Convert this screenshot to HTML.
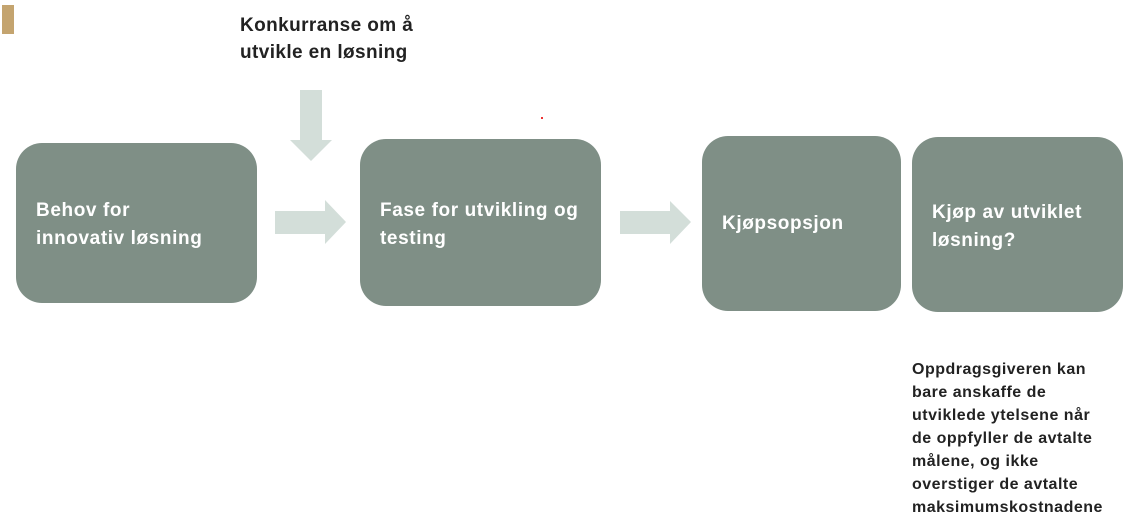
<!DOCTYPE html>
<html><head><meta charset="utf-8"><style>
body{margin:0;width:1129px;height:529px;background:#fff;position:relative;overflow:hidden;font-family:"Liberation Sans",sans-serif;font-weight:bold}
.b{position:absolute;background:#7f8f86;border-radius:26px;color:#fff;font-size:19px;letter-spacing:0.6px;line-height:28px;box-sizing:border-box;white-space:nowrap}
.t{position:absolute;color:#222;white-space:nowrap}
</style></head><body>
<div style="position:absolute;left:2px;top:5px;width:12px;height:29px;background:#c4a46f"></div>
<div class="t" style="left:240px;top:12px;font-size:19px;letter-spacing:0.4px;line-height:27px">Konkurranse om å<br>utvikle en løsning</div>
<div style="position:absolute;left:541px;top:117px;width:2px;height:2px;background:#e33"></div>
<svg width="1129" height="529" style="position:absolute;left:0;top:0">
<polygon fill="#d3ded9" points="300,90 322,90 322,140 332,140 311,161 290,140 300,140"/>
<polygon fill="#d3ded9" points="275,211 325,211 325,200 346,222 325,244 325,234 275,234"/>
<polygon fill="#d3ded9" points="620,211 670,211 670,201 691,222 670,244 670,234 620,234"/>
</svg>
<div class="b" style="left:16px;top:143px;width:241px;height:160px;padding:54px 0 0 20px">Behov for<br>innovativ løsning</div>
<div class="b" style="left:360px;top:139px;width:241px;height:167px;padding:58px 0 0 20px">Fase for utvikling og<br>testing</div>
<div class="b" style="left:702px;top:136px;width:199px;height:175px;padding:74px 0 0 20px">Kjøpsopsjon</div>
<div class="b" style="left:912px;top:137px;width:211px;height:175px;padding:62px 0 0 20px">Kjøp av utviklet<br>løsning?</div>
<div class="t" style="left:912px;top:358px;font-size:16px;letter-spacing:0.5px;line-height:23px">Oppdragsgiveren kan<br>bare anskaffe de<br>utviklede ytelsene når<br>de oppfyller de avtalte<br>målene, og ikke<br>overstiger de avtalte<br>maksimumskostnadene</div>
</body></html>
